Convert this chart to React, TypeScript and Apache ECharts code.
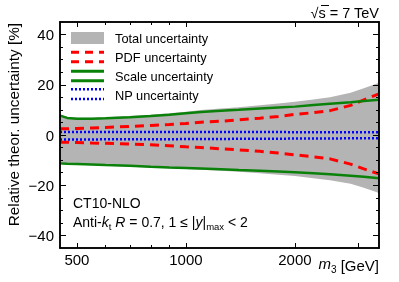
import React, { useEffect, useRef } from "react";
import * as echarts from "echarts";

// ---- data ----
const massGeV = [449, 470, 500, 550, 600, 700, 800, 900, 1000, 1100, 1250, 1400, 1600, 1800, 2000, 2250, 2500, 2850, 3100, 3414];
const totalUp = [8.3, 7.2, 6.9, 6.9, 7.1, 7.6, 8.1, 8.7, 9.3, 10.0, 10.6, 11.1, 11.8, 12.5, 13.2, 14.1, 15.0, 16.8, 18.6, 20.8];
const totalDown = [-11.6, -11.7, -11.8, -12.0, -12.2, -12.6, -12.9, -13.2, -13.5, -13.8, -14.2, -14.6, -15.2, -15.8, -16.3, -17.2, -18.0, -19.4, -21.0, -23.1];
const pdfUp = [2.5, 2.5, 2.6, 2.8, 3.0, 3.4, 3.8, 4.2, 4.6, 5.1, 5.5, 6.0, 6.7, 7.4, 8.2, 8.9, 9.7, 11.8, 14.0, 16.4];
const pdfDown = [-2.9, -2.9, -3.0, -3.2, -3.3, -3.6, -3.9, -4.3, -4.7, -5.0, -5.5, -5.9, -6.5, -7.2, -7.9, -8.7, -9.5, -11.6, -13.5, -15.5];
const scaleUp = [7.7, 6.8, 6.5, 6.5, 6.7, 7.1, 7.6, 8.1, 8.7, 9.2, 9.7, 10.1, 10.6, 11.0, 11.3, 11.9, 12.4, 13.0, 13.5, 14.0];
const scaleDown = [-11.3, -11.4, -11.5, -11.7, -11.9, -12.2, -12.6, -12.9, -13.1, -13.3, -13.6, -13.9, -14.2, -14.5, -14.8, -15.2, -15.6, -16.2, -16.6, -17.2];
const npUp = [1.2, 1.2, 1.2, 1.2, 1.2, 1.2, 1.2, 1.2, 1.2, 1.2, 1.2, 1.2, 1.2, 1.2, 1.1, 1.1, 1.1, 1.1, 1.1, 1.1];
const npDown = [-1.8, -1.8, -1.8, -1.8, -1.7, -1.7, -1.7, -1.7, -1.6, -1.6, -1.6, -1.5, -1.5, -1.5, -1.4, -1.4, -1.4, -1.3, -1.3, -1.3];

const xRange = [449, 3414];
const yRange = [-45, 45];
const xTickLabels = [500, 1000, 2000];
const xMajorTicks = [500, 1000, 2000, 3000];
const xMinorTicks = [600, 700, 800, 900];
const yMajorTicks = [-40, -20, 0, 20, 40];
const yMinorTicks = [-35, -30, -25, -15, -10, -5, 5, 10, 15, 25, 30, 35];

const FONT = "'Liberation Sans', Arial, Helvetica, sans-serif";
const lg = (v: number) => Math.log10(v);
const pts = (arr: number[]) => massGeV.map((m, i) => [lg(m), arr[i]]);

const RED = "#ff0000";
const GREEN = "#0a820a";
const BLUE = "#0000ff";
const GRAY = "#b4b4b4";

function xAxisDef(position: string, ticks: number[], len: number, labels: number[] | null, withName: boolean) {
  const a: any = {
    type: "value",
    position,
    min: lg(xRange[0]),
    max: lg(xRange[1]),
    z: 5,
    axisLine: { show: true, onZero: false, lineStyle: { color: "#000", width: 1.5 } },
    axisTick: { show: true, inside: true, length: len, customValues: ticks.map(lg), lineStyle: { color: "#000", width: 1 } },
    splitLine: { show: false },
    axisLabel: labels
      ? {
          show: true,
          customValues: labels.map(lg),
          formatter: (v: number) => String(Math.round(Math.pow(10, v))),
          color: "#000",
          fontSize: 15,
          fontFamily: FONT,
          margin: 4,
        }
      : { show: false },
  };
  if (withName) {
    a.name = "{i|m}{s|3} [GeV]";
    a.nameLocation = "end";
    a.nameGap = 0;
    a.nameTextStyle = {
      align: "right",
      verticalAlign: "top",
      padding: [8, 0, 0, 0],
      color: "#000",
      fontSize: 15,
      fontFamily: FONT,
      rich: {
        i: { fontStyle: "italic", fontSize: 15, fontFamily: FONT, color: "#000", lineHeight: 18, verticalAlign: "top" },
        s: { fontSize: 10, fontFamily: FONT, color: "#000", lineHeight: 18, verticalAlign: "bottom" },
      },
    };
  }
  return a;
}

function yAxisDef(position: string, ticks: number[], len: number, labels: number[] | null) {
  return {
    type: "value",
    position,
    min: yRange[0],
    max: yRange[1],
    z: 5,
    axisLine: { show: true, onZero: false, lineStyle: { color: "#000", width: 1.5 } },
    axisTick: { show: true, inside: true, length: len, customValues: ticks, lineStyle: { color: "#000", width: 1 } },
    splitLine: { show: false },
    axisLabel: labels
      ? {
          show: true,
          customValues: labels,
          formatter: (v: number) => (v < 0 ? "\u2212" + Math.abs(v) : String(v)),
          color: "#000",
          fontSize: 15,
          fontFamily: FONT,
          margin: 6,
        }
      : { show: false },
  };
}

function lineSeries(name: string, arr: number[], color: string, width: number, type: any) {
  return {
    type: "line",
    name,
    data: pts(arr),
    symbol: "none",
    z: 3,
    lineStyle: { color, width, type, cap: "butt" },
  };
}

export default function App() {
  const ref = useRef<HTMLDivElement>(null);
  useEffect(() => {
    if (!ref.current) return;
    const chart = echarts.init(ref.current, null, { renderer: "svg" });
    const legendX = 71;
    const legendW = 33;
    const textX = 115;
    const option: any = {
      animation: false,
      grid: { left: 60, right: 20, top: 22, bottom: 34, containLabel: false, outerBoundsMode: "none" },
      xAxis: [
        xAxisDef("bottom", xMajorTicks, 5, xTickLabels, true),
        xAxisDef("bottom", xMinorTicks, 3, null, false),
        xAxisDef("top", xMajorTicks, 5, null, false),
        xAxisDef("top", xMinorTicks, 3, null, false),
      ],
      yAxis: [
        yAxisDef("left", yMajorTicks, 6, yMajorTicks),
        yAxisDef("left", yMinorTicks, 3, null),
        yAxisDef("right", yMajorTicks, 6, null),
        yAxisDef("right", yMinorTicks, 3, null),
      ],
      series: [
        {
          type: "custom",
          name: "Total uncertainty",
          z: 2,
          data: massGeV.map((m, i) => [lg(m), totalDown[i], totalUp[i]]),
          encode: { x: 0, y: [1, 2] },
          renderItem: (params: any, api: any) => {
            if (params.dataIndex !== 0) return null;
            const upper = massGeV.map((m, i) => api.coord([lg(m), totalUp[i]]));
            const lower = massGeV.map((m, i) => api.coord([lg(m), totalDown[i]])).reverse();
            return { type: "polygon", shape: { points: upper.concat(lower) }, style: { fill: GRAY } };
          },
        },
        lineSeries("PDF uncertainty", pdfUp, RED, 3, [9, 6]),
        lineSeries("PDF uncertainty", pdfDown, RED, 3, [9, 6]),
        lineSeries("Scale uncertainty", scaleUp, GREEN, 2.5, "solid"),
        lineSeries("Scale uncertainty", scaleDown, GREEN, 2.5, "solid"),
        lineSeries("NP uncertainty", npUp, BLUE, 2.5, [2, 2]),
        lineSeries("NP uncertainty", npDown, BLUE, 2.5, [2, 2]),
      ],
      graphic: [
        // y axis title
        {
          type: "text",
          x: 13,
          y: 23,
          rotation: Math.PI / 2,
          style: { text: "Relative theor. uncertainty [%]", fontSize: 15.3, fontFamily: FONT, fill: "#000", align: "right", verticalAlign: "middle" },
        },
        // sqrt(s) label
        {
          type: "text",
          x: 379,
          y: 13,
          style: { text: "\u221As = 7 TeV", fontSize: 14.5, fontFamily: FONT, fill: "#000", align: "right", verticalAlign: "middle" },
        },
        { type: "line", shape: { x1: 321, y1: 5.5, x2: 329, y2: 5.5 }, style: { stroke: "#000", lineWidth: 1 } },
        // legend
        { type: "rect", shape: { x: legendX, y: 32, width: legendW, height: 12 }, style: { fill: GRAY } },
        { type: "text", x: textX, y: 38.5, style: { text: "Total uncertainty", fontSize: 12.8, fontFamily: FONT, fill: "#000", verticalAlign: "middle" } },
        { type: "line", shape: { x1: legendX, y1: 52.3, x2: legendX + legendW, y2: 52.3 }, style: { stroke: RED, lineWidth: 3, lineDash: [8, 6] } },
        { type: "line", shape: { x1: legendX, y1: 61.7, x2: legendX + legendW, y2: 61.7 }, style: { stroke: RED, lineWidth: 3, lineDash: [8, 6] } },
        { type: "text", x: textX, y: 57.5, style: { text: "PDF uncertainty", fontSize: 12.8, fontFamily: FONT, fill: "#000", verticalAlign: "middle" } },
        { type: "line", shape: { x1: legendX, y1: 71.3, x2: legendX + legendW, y2: 71.3 }, style: { stroke: GREEN, lineWidth: 3 } },
        { type: "line", shape: { x1: legendX, y1: 80.7, x2: legendX + legendW, y2: 80.7 }, style: { stroke: GREEN, lineWidth: 3 } },
        { type: "text", x: textX, y: 76.5, style: { text: "Scale uncertainty", fontSize: 12.8, fontFamily: FONT, fill: "#000", verticalAlign: "middle" } },
        { type: "line", shape: { x1: legendX, y1: 89.3, x2: legendX + legendW, y2: 89.3 }, style: { stroke: BLUE, lineWidth: 2.5, lineDash: [2, 2] } },
        { type: "line", shape: { x1: legendX, y1: 99, x2: legendX + legendW, y2: 99 }, style: { stroke: BLUE, lineWidth: 2.5, lineDash: [2, 2] } },
        { type: "text", x: textX, y: 95, style: { text: "NP uncertainty", fontSize: 12.8, fontFamily: FONT, fill: "#000", verticalAlign: "middle" } },
        // annotations
        { type: "text", x: 73, y: 203, style: { text: "CT10-NLO", fontSize: 14, fontFamily: FONT, fill: "#000", verticalAlign: "middle" } },
        {
          type: "text",
          x: 73,
          y: 222,
          style: {
            text: "{n|Anti-}{i|k}{sub|t}{n| }{i|R}{n| = 0.7, 1 \u2264 |}{i|y}{n||}{sub|max}{n| < 2}",
            fontSize: 14,
            fontFamily: FONT,
            fill: "#000",
            verticalAlign: "middle",
            rich: {
              n: { fontSize: 14, fontFamily: FONT, fill: "#000", lineHeight: 18, verticalAlign: "middle" },
              i: { fontSize: 14, fontFamily: FONT, fontStyle: "italic", fill: "#000", lineHeight: 18, verticalAlign: "middle" },
              sub: { fontSize: 9.5, fontFamily: FONT, fill: "#000", lineHeight: 12, verticalAlign: "bottom" },
            },
          },
        },
      ],
    };
    chart.setOption(option);
    return () => chart.dispose();
  }, []);
  return <div ref={ref} style={{ position: "fixed", left: 0, top: 0, width: 399, height: 282 }} />;
}
